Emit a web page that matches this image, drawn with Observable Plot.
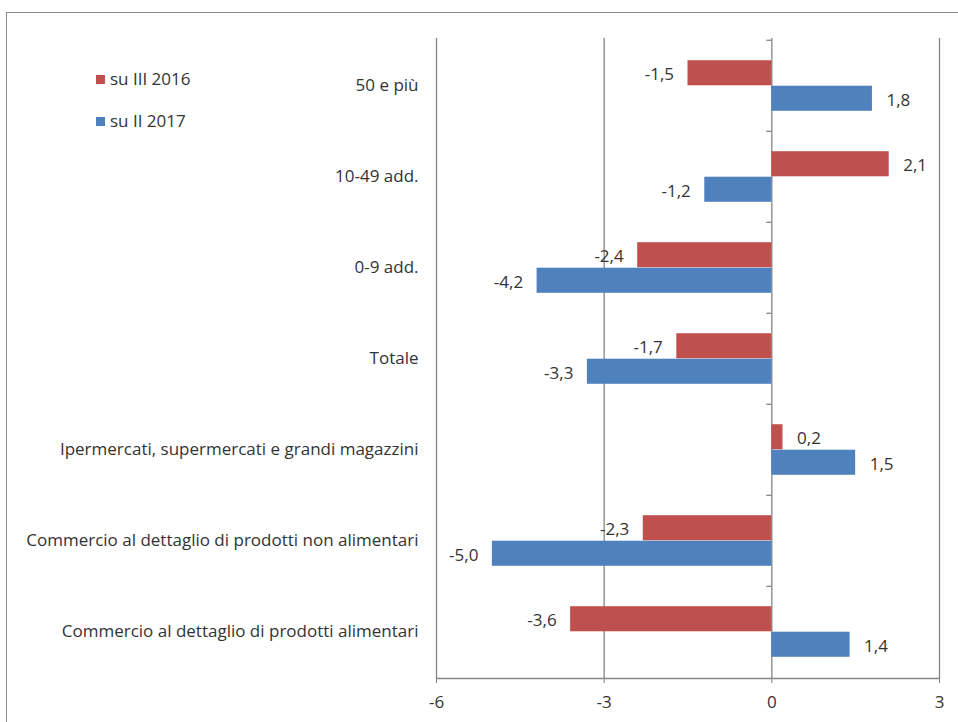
<!DOCTYPE html>
<html><head><meta charset="utf-8">
<script src="https://cdn.jsdelivr.net/npm/d3@7"></script>
<script src="https://cdn.jsdelivr.net/npm/@observablehq/plot@0.6"></script>
<style>
body{margin:0;background:#fff;}
#wrap{position:relative;width:958px;height:722px;overflow:hidden;font-family:"Open Sans",sans-serif;}
#border{position:absolute;left:6px;top:12px;width:1000px;height:1000px;border:1.5px solid #8a8a8a;pointer-events:none;}
.sq{position:absolute;width:9px;height:9px;}
.lt{position:absolute;font-size:17px;color:#333;line-height:20px;white-space:nowrap;}
#chart{position:absolute;left:0;top:0;}
</style></head>
<body>
<div id="wrap">
  <div id="chart"></div>
  <div id="border"></div>
  <div id="legend"></div>
</div>
<script>
const categories = [
  "50 e più",
  "10-49 add.",
  "0-9 add.",
  "Totale",
  "Ipermercati, supermercati e grandi magazzini",
  "Commercio al dettaglio di prodotti non alimentari",
  "Commercio al dettaglio di prodotti alimentari"
];
const seriesNames = ["su III 2016", "su II 2017"];
const valuesIII2016 = [-1.5, 2.1, -2.4, -1.7, 0.2, -2.3, -3.6];
const valuesII2017 = [1.8, -1.2, -4.2, -3.3, 1.5, -5.0, 1.4];
const seriesColors = ["#C0504D", "#4F81BD"];
const xTicks = [-6, -3, 0, 3];

const W = 958, H = 722, mt = 38, mb = 44, ml = 436, mr = 19;
const bw = (H - mt - mb) / categories.length;
const barH = 25.5;
const outer = (bw - 2 * barH) / 2;
const gray = "#868686";
const fmt = v => v.toFixed(1).replace(".", ",");

const rowsA = categories.map((c, i) => ({cat: c, value: valuesIII2016[i]}));
const rowsB = categories.map((c, i) => ({cat: c, value: valuesII2017[i]}));

function labels(rows, dy) {
  return [
    Plot.text(rows.filter(d => d.value >= 0), {x: "value", y: "cat", text: d => fmt(d.value), dx: 14, dy, textAnchor: "start", fill: "#333"}),
    Plot.text(rows.filter(d => d.value < 0), {x: "value", y: "cat", text: d => fmt(d.value), dx: -14, dy, textAnchor: "end", fill: "#333"})
  ];
}

const chart = Plot.plot({
  width: W, height: H,
  marginTop: mt, marginBottom: mb, marginLeft: ml, marginRight: mr,
  style: {fontFamily: "Open Sans, sans-serif", fontSize: "17px", color: "#333", background: "transparent"},
  x: {domain: [-6, 3], label: null},
  y: {type: "band", domain: categories, padding: 0, label: null},
  marks: [
    Plot.gridX(xTicks.filter(d => d !== 0), {stroke: gray, strokeOpacity: 1, strokeWidth: 1.3}),
    Plot.ruleX([0], {stroke: gray, strokeWidth: 1.3}),
    Plot.ruleY(categories, {y: d => d, x1: -0.09, x2: 0, dy: -bw / 2, stroke: gray, strokeWidth: 1.3}),
    Plot.barX(rowsA, {x: "value", y: "cat", fill: seriesColors[0], insetTop: outer, insetBottom: bw - outer - barH}),
    Plot.barX(rowsB, {x: "value", y: "cat", fill: seriesColors[1], insetTop: outer + barH, insetBottom: outer}),
    ...labels(rowsA, -(barH / 2) + 1.5),
    ...labels(rowsB, barH / 2 + 1.5),
    Plot.frame({anchor: "bottom", stroke: gray, strokeWidth: 1.3}),
    Plot.axisX({ticks: xTicks, tickFormat: d => String(d), tickSize: 5, tickPadding: 12, stroke: gray, fill: "#333", label: null}),
    Plot.axisY({tickSize: 0, tickPadding: 18, fill: "#333", label: null})
  ]
});
document.getElementById("chart").appendChild(chart);

const legend = document.getElementById("legend");
seriesNames.forEach((name, i) => {
  const yc = [79, 121][i];
  const sq = document.createElement("div");
  sq.className = "sq";
  sq.style.left = "96px"; sq.style.top = (yc - 4.5) + "px";
  sq.style.background = seriesColors[i];
  legend.appendChild(sq);
  const t = document.createElement("div");
  t.className = "lt";
  t.style.left = "110px"; t.style.top = (yc - 10) + "px";
  t.textContent = name;
  legend.appendChild(t);
});
</script>
</body></html>
